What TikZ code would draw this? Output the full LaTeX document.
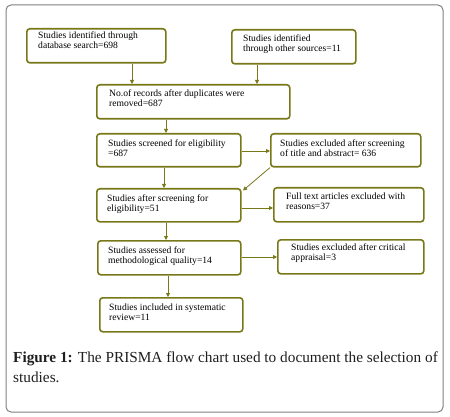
\documentclass[tikz,border=0pt]{standalone}
\usepackage{fontspec}
\setmainfont{Liberation Serif}
\usetikzlibrary{arrows.meta,calc}
\definecolor{olive}{RGB}{120,120,24}
\definecolor{framegray}{RGB}{128,128,128}
\definecolor{captext}{RGB}{30,30,30}
\tikzset{
  box/.style={draw=olive, line width=1.6pt, rounded corners=3pt, fill=white,
    anchor=north west, inner sep=0pt},
  boxtext/.style={anchor=north west, inner sep=0pt, align=left,
    font=\fontsize{9.6}{10}\selectfont},
  arr/.style={draw=olive, line width=0.8pt, -{Triangle[length=4pt,width=4pt]}},
}
\begin{document}
\begin{tikzpicture}[x=1pt,y=-1pt]
\useasboundingbox (0,0) rectangle (450,417);
\draw[framegray, line width=1pt, rounded corners=5pt] (6,5) rectangle (443,412);
% boxes
\node[box, minimum width=139pt, minimum height=34pt] (b1) at (26,28) {};
\node[box, minimum width=124pt, minimum height=34pt] (b2) at (231,29) {};
\node[box, minimum width=193pt, minimum height=34pt] (b3) at (96,84) {};
\node[box, minimum width=144pt, minimum height=33pt] (b4) at (96,133) {};
\node[box, minimum width=150pt, minimum height=33pt] (b5) at (270,133) {};
\node[box, minimum width=144pt, minimum height=33pt] (b6) at (96,188) {};
\node[box, minimum width=150pt, minimum height=34pt] (b7) at (273,187) {};
\node[box, minimum width=143pt, minimum height=34pt] (b8) at (97,240) {};
\node[box, minimum width=146pt, minimum height=34pt] (b9) at (277,239) {};
\node[box, minimum width=143pt, minimum height=34pt] (b10) at (99,297) {};
% texts
\node[boxtext] (t1) at ($(b1.north west)+(12,4)$) {Studies identified through\\database search=698};
\node[boxtext] (t2) at ($(b2.north west)+(12,6)$) {Studies identified\\through other sources=11};
\node[boxtext] (t3) at ($(b3.north west)+(13,6)$) {No.of records after duplicates were\\removed=687};
\node[boxtext] (t4) at ($(b4.north west)+(12,7)$) {Studies screened for eligibility\\=687};
\node[boxtext] (t5) at ($(b5.north west)+(10,7)$) {Studies excluded after screening\\of title and abstract= 636};
\node[boxtext] (t6) at ($(b6.north west)+(11,7)$) {Studies after screening for\\eligibility=51};
\node[boxtext] (t7) at ($(b7.north west)+(13,6)$) {Full text articles excluded with\\reasons=37};
\node[boxtext] (t8) at ($(b8.north west)+(11,7)$) {Studies assessed for\\methodological quality=14};
\node[boxtext] (t9) at ($(b9.north west)+(14,5)$) {Studies excluded after critical\\appraisal=3};
\node[boxtext] (t10) at ($(b10.north west)+(10,7)$) {Studies included in systematic\\review=11};
% arrows
\draw[arr] (b1.south -| 132,0) -- (b3.north -| 132,0);
\draw[arr] (b2.south -| 257,0) -- (b3.north -| 257,0);
\draw[arr] (b3.south -| 166,0) -- (b4.north -| 166,0);
\draw[arr] (b4.east |- 0,151) -- (b5.west |- 0,151);
\draw[arr] (b5.south west) -- (243,190.5);
\draw[arr] (b4.south -| 164,0) -- (b6.north -| 164,0);
\draw[arr] (b6.east |- 0,208) -- (b7.west |- 0,208);
\draw[arr] (b6.south -| 166,0) -- (b8.north -| 166,0);
\draw[arr] (b8.east |- 0,257) -- (b9.west |- 0,257);
\draw[arr] (b8.south -| 168,0) -- (b10.north -| 168,0);
% caption
\node[anchor=base west, inner sep=0pt, align=left, text=captext,
  font=\fontsize{15.3}{20}\selectfont] (cap) at (13,382)
  {\textbf{Figure 1:} The PRISMA flow chart used to document the selection of\\studies.};
\end{tikzpicture}
\end{document}
